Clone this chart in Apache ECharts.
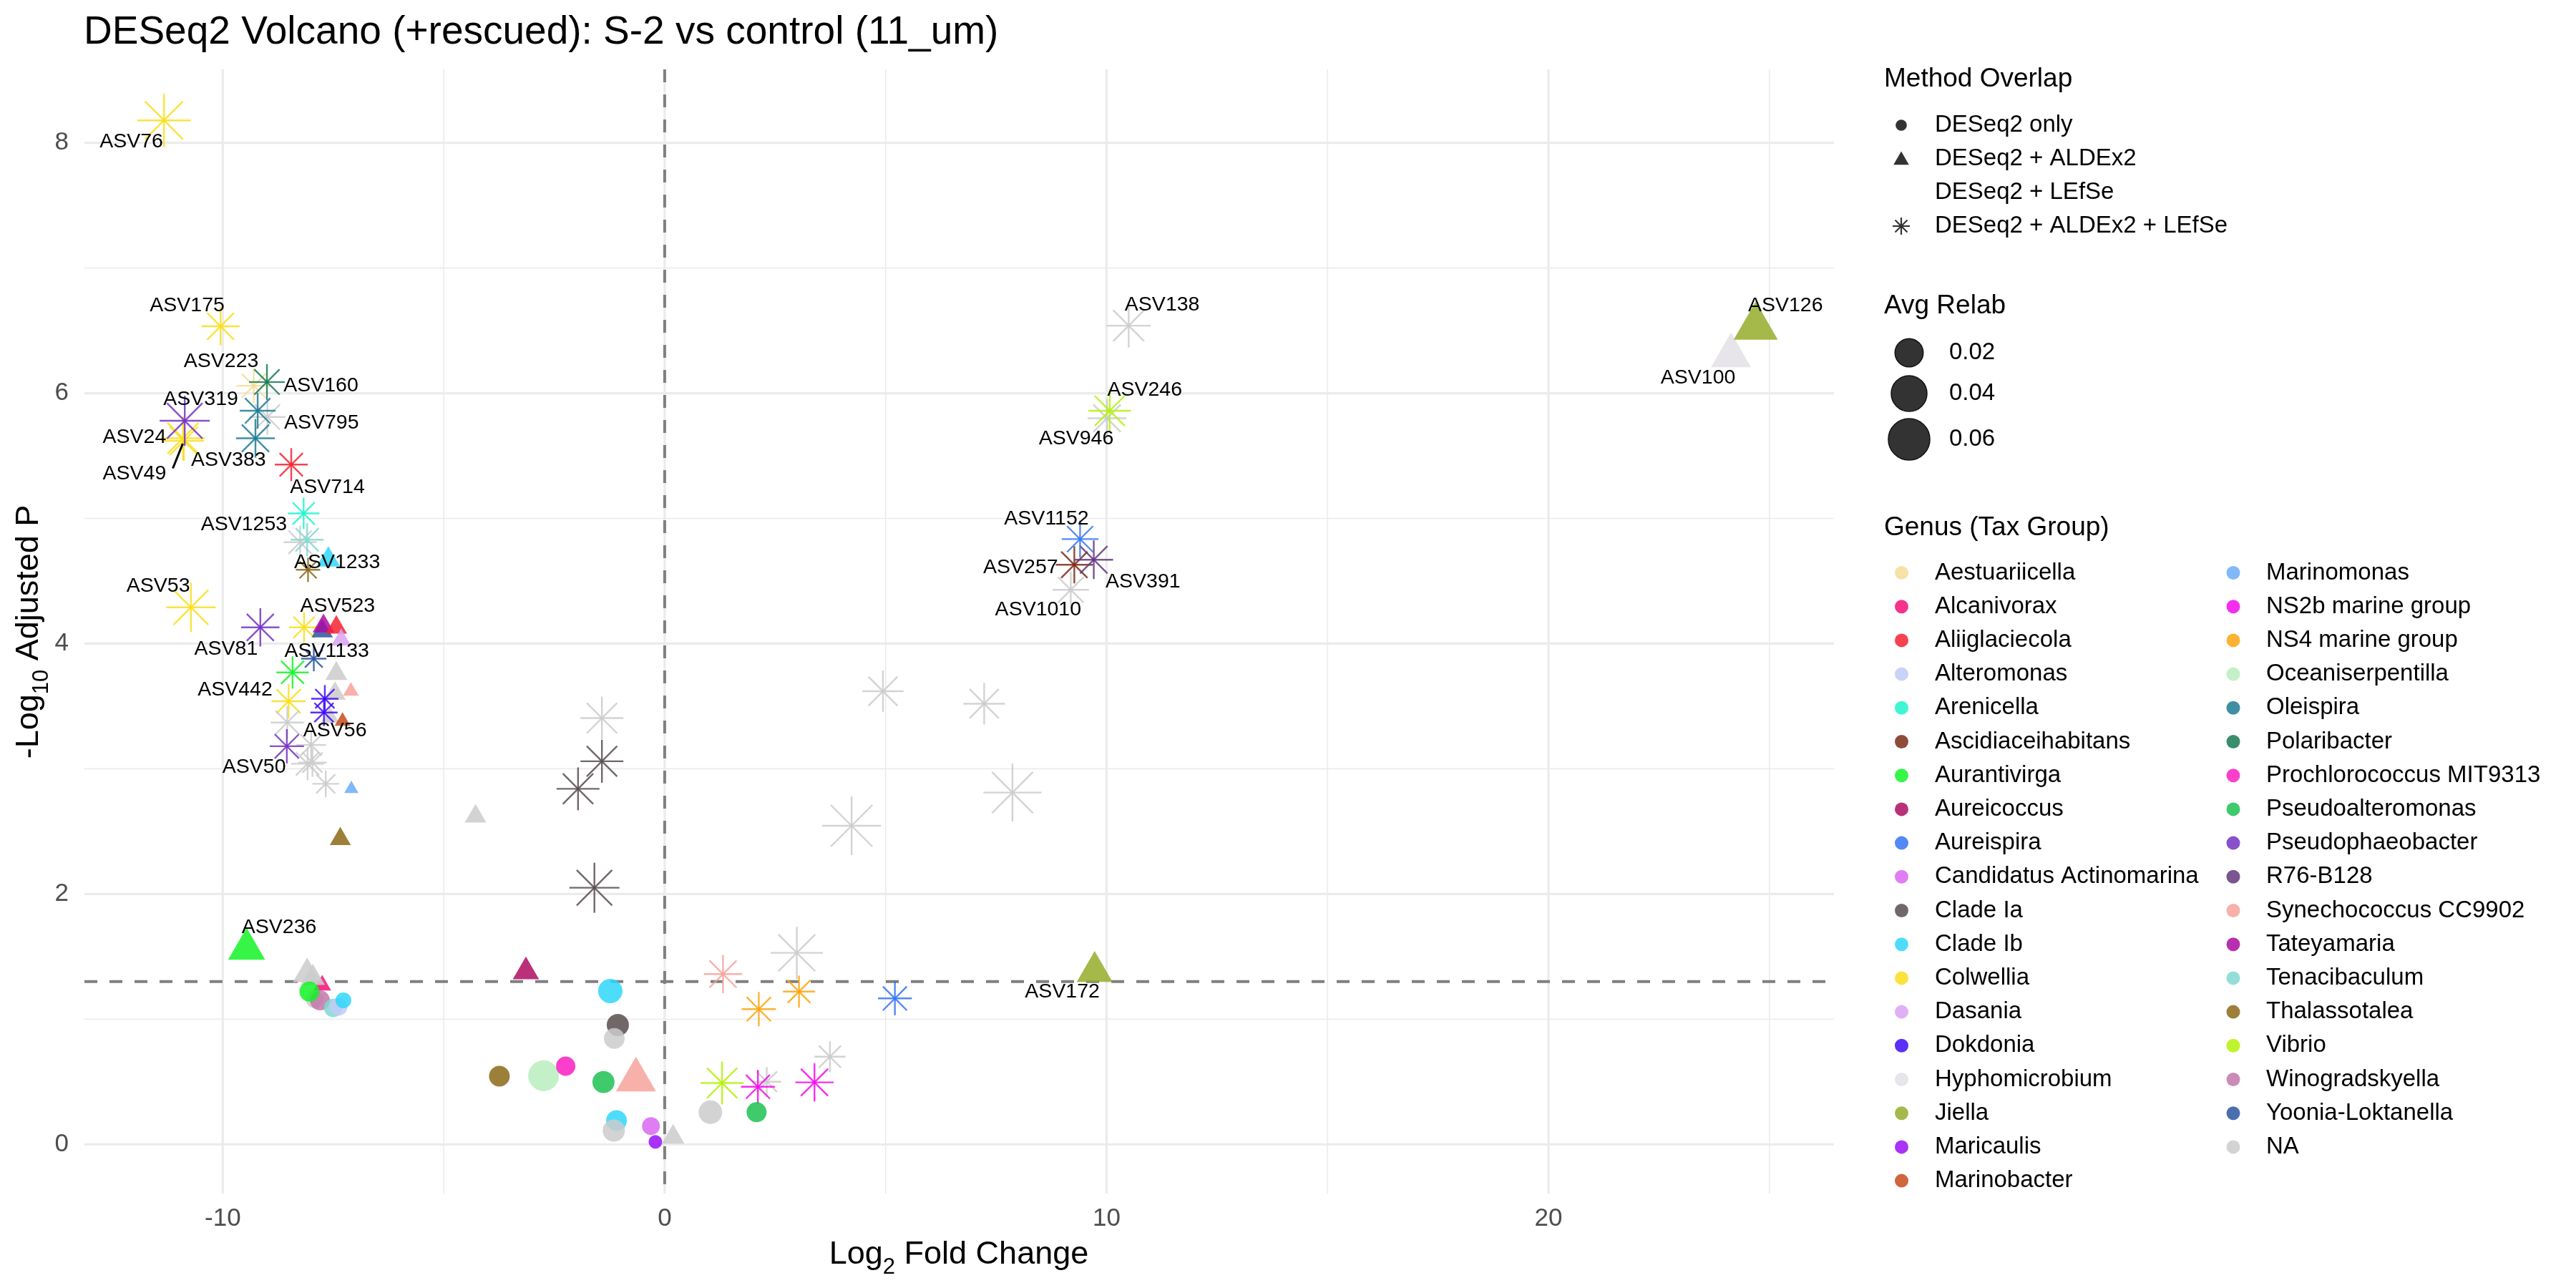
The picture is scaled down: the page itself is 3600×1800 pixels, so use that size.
<!DOCTYPE html>
<html><head><meta charset="utf-8">
<script src="https://cdn.jsdelivr.net/npm/echarts@6/dist/echarts.min.js"></script>
<style>html,body{margin:0;padding:0;background:#fff}#c{width:3600px;height:1800px}</style>
</head><body><div id="c"></div>
<script>
// ---------------- DATA ----------------
const asvNames = ['ASV100','','','','','','','','','ASV138','ASV946','ASV246','ASV1010','ASV257','ASV391','ASV1152','ASV172','ASV126',
 'ASV76','ASV175','ASV795','','ASV223','ASV160','ASV383','ASV49','ASV24','ASV319','ASV714','','','ASV1253','','ASV1233','ASV53','ASV81','','','ASV523','','','ASV1133','','','','','ASV442','','','','ASV56','','','ASV50','','','','','','','ASV236','','','','','','','','','','',
 '','','','','','','','','','','','','','','','','','','','','','','','',''];
const genus = ['Hyphomicrobium','NA','Clade Ia','Clade Ia','Clade Ia','NA','NA','NA','NA','NA','NA','Vibrio','NA','Ascidiaceihabitans','R76-B128','Aureispira','Jiella','Jiella',
 'Colwellia','Colwellia','NA','Oleispira','Aestuariicella','Polaribacter','Oleispira','Colwellia','Colwellia','Pseudophaeobacter','Aliiglaciecola','NA','Tenacibaculum','Arenicella','Thalassotalea','Clade Ib','Colwellia','Pseudophaeobacter','Colwellia','Yoonia-Loktanella','Tateyamaria','Aliiglaciecola','Dasania','Yoonia-Loktanella','Aurantivirga','NA','NA','Synechococcus CC9902','Colwellia','NA','Dokdonia','Dokdonia','Marinobacter','NA','NA','Pseudophaeobacter','NA','NA','NA','Marinomonas','NA','Thalassotalea','Aurantivirga','Alcanivorax','NA','NA','NA','Winogradskyella','Aurantivirga','Tenacibaculum','Alteromonas','Clade Ib',
 'Aureicoccus','Clade Ib','Clade Ia','NA','Thalassotalea','Oceaniserpentilla','Prochlorococcus MIT9313','Pseudoalteromonas','Synechococcus CC9902','Clade Ib','NA','Candidatus Actinomarina','Maricaulis','NA','Synechococcus CC9902','NA','NS4 marine group','NS4 marine group','Aureispira','NA','NA','Vibrio','NS2b marine group','NS2b marine group','NA','Pseudoalteromonas'];
// method: D = DESeq2 only, DA = DESeq2 + ALDEx2, DL = DESeq2 + LEfSe, DAL = all three
const method = ['DA','DAL','DAL','DAL','DAL','DAL','DAL','DAL','DAL','DAL','DAL','DAL','DAL','DAL','DAL','DAL','DA','DA',
 'DAL','DAL','DAL','DAL','DAL','DAL','DAL','DAL','DAL','DAL','DAL','DAL','DAL','DAL','DAL','DA','DAL','DAL','DAL','DA','DA','DA','DA','DAL','DAL','DA','DA','DA','DAL','DA','DAL','DAL','DA','DAL','DAL','DAL','DAL','DAL','DAL','DA','DA','DA','DA','DA','DA','DA','D','D','D','D','D','D',
 'DA','D','D','D','D','D','D','D','DA','D','D','D','D','DA','DAL','DAL','DAL','DAL','DAL','DAL','DAL','DAL','DAL','DAL','D','D'];
const log2FC = [24.13,-1.42,-1.42,-1.96,-1.59,4.94,7.23,4.23,7.87,10.50,10.01,10.07,9.19,9.27,9.71,9.40,9.73,24.69,
 -11.33,-10.05,-8.99,-9.21,-9.30,-9.00,-9.26,-10.88,-10.90,-10.86,-8.45,-8.25,-8.09,-8.17,-8.07,-7.61,-10.72,-9.15,-8.16,-7.75,-7.72,-7.43,-7.32,-7.94,-8.42,-7.43,-7.46,-7.10,-8.51,-7.57,-7.69,-7.71,-7.29,-8.54,-8.00,-8.55,-8.08,-7.97,-7.67,-7.09,-4.28,-7.34,-9.46,-7.75,-8.09,-7.96,-7.92,-7.80,-8.04,-7.50,-7.38,-7.27,
 -3.14,-1.23,-1.06,-1.14,-3.74,-2.74,-2.24,-1.385,-0.65,-1.09,-1.15,-0.31,-0.21,0.19,1.32,2.99,3.04,2.13,5.21,3.74,2.31,1.30,2.11,3.39,1.035,2.08];
const negLog10Padj = [6.30,3.405,3.06,2.84,2.05,3.62,3.52,2.545,2.81,6.54,5.80,5.86,4.43,4.63,4.67,4.835,1.38,6.53,
 8.18,6.535,5.81,5.86,6.06,6.09,5.64,5.62,5.64,5.78,5.43,4.81,4.83,5.04,4.59,4.67,4.29,4.13,4.13,4.10,4.14,4.13,4.03,3.88,3.77,3.76,3.60,3.62,3.54,3.41,3.56,3.45,3.38,3.37,3.19,3.18,3.04,3.05,2.88,2.84,2.62,2.44,1.56,1.27,1.36,1.33,1.16,1.15,1.22,1.09,1.10,1.15,
 1.38,1.225,0.953,0.846,0.545,0.548,0.624,0.498,0.516,0.19,0.11,0.146,0.02,0.058,1.36,1.53,1.22,1.08,1.166,0.70,0.50,0.49,0.46,0.495,0.257,0.257];
const avgRelab = [0.0235,0.0249,0.0249,0.0249,0.0389,0.0220,0.0225,0.0598,0.0581,0.0267,0.0181,0.0244,0.0147,0.0160,0.0181,0.0153,0.0165,0.0312,
 0.0469,0.0172,0.0141,0.0141,0.0122,0.0141,0.0181,0.0202,0.0265,0.0389,0.0106,0.0106,0.0106,0.0090,0.0031,0.0034,0.0370,0.0176,0.0076,0.0021,0.0023,0.0021,0.0013,0.0037,0.0100,0.0023,0.0021,0.00016,0.0121,0.00065,0.0051,0.0051,0.00016,0.0106,0.0072,0.0122,0.0106,0.0063,0.0049,0.00002,0.0021,0.0019,0.0184,0.00065,0.0076,0.0039,0.0037,0.0060,0.0060,0.0042,0.0037,0.0020,
 0.0054,0.0123,0.0089,0.0069,0.0069,0.0260,0.0052,0.0089,0.0235,0.0069,0.0089,0.0037,0.00077,0.0028,0.0176,0.0436,0.0097,0.0122,0.0117,0.0086,0.0068,0.0249,0.0117,0.0176,0.0111,0.0060];

const genusLevels = ['Aestuariicella','Alcanivorax','Aliiglaciecola','Alteromonas','Arenicella','Ascidiaceihabitans','Aurantivirga','Aureicoccus','Aureispira','Candidatus Actinomarina','Clade Ia','Clade Ib','Colwellia','Dasania','Dokdonia','Hyphomicrobium','Jiella','Maricaulis','Marinobacter',
 'Marinomonas','NS2b marine group','NS4 marine group','Oceaniserpentilla','Oleispira','Polaribacter','Prochlorococcus MIT9313','Pseudoalteromonas','Pseudophaeobacter','R76-B128','Synechococcus CC9902','Tateyamaria','Tenacibaculum','Thalassotalea','Vibrio','Winogradskyella','Yoonia-Loktanella','NA'];
const genusColors = ['#F6E2A6','#F5338C','#F6434F','#C9D3F7','#3FF6D4','#8F4B3A','#36F547','#BA317A','#5389F5','#DF7EF2','#716769','#4DDDFB','#FAE33E','#E0B0F5','#5A2FF7','#E7E5E9','#A4B94A','#A935F7','#D0653E',
 '#80B8FA','#F52EEE','#FEB233','#C3F0C6','#3F8FA3','#3B8E6E','#FB3FCB','#3FCA6C','#8A50CC','#7A5590','#F8B0AA','#B82FB0','#93DED8','#9C803A','#BFF42C','#CA8CB7','#4A6FAF','#D3D3D3'];
const methodLevels = ['DESeq2 only','DESeq2 + ALDEx2','DESeq2 + LEfSe','DESeq2 + ALDEx2 + LEfSe'];
const methodKeys = ['D','DA','DL','DAL'];
const relabBreaks = [0.02, 0.04, 0.06];
const xMajorTicks = [-10, 0, 10, 20];
const xMinorTicks = [-5, 5, 15, 25];
const yMajorTicks = [0, 2, 4, 6, 8];
const yMinorTicks = [1, 3, 5, 7];
const padjCutoff = 0.05;
const lfcCenter = 0;

// label placement (pixel offsets of label centre from its point, as repelled in the original)
const labelOffsets = {
 ASV76:[-45.6,29.8], ASV175:[-46.6,-29], ASV223:[-45.4,-34.4], ASV160:[75.4,5.7], ASV319:[22.4,-29.8], ASV795:[75.6,8.8],
 ASV24:[-67.8,-1.3], ASV49:[-69,46.1], ASV383:[-37.7,30.6], ASV714:[50.5,31.8], ASV1253:[-83.4,15.7], ASV1233:[12.2,3.4],
 ASV53:[-45.7,-29.3], ASV81:[-47.9,30], ASV523:[19.7,-27.7], ASV1133:[18.2,-10], ASV442:[-74.8,-16], ASV56:[-10.5,13],
 ASV50:[-45.7,29], ASV236:[45.4,-29.9], ASV138:[46.8,-29], ASV246:[49,-29], ASV946:[-43.1,28.2], ASV1152:[-46.9,-28.2],
 ASV257:[-75,4.1], ASV391:[68.8,30.7], ASV1010:[-45.6,27.4], ASV172:[-45.2,28.2], ASV126:[41.5,-29.4], ASV100:[-46,31]
};
const labelSegments = { ASV49: [[-15.4,38.4],[-1.5,4]] };

// ---------------- STYLE HELPERS ----------------
const FONT = '"Liberation Sans", Arial, Helvetica, sans-serif';
const ALPHA = 0.85;
function unblend(hex){
  const n = parseInt(hex.slice(1),16);
  const c = [(n>>16)&255,(n>>8)&255,n&255].map(v=>Math.max(0,Math.min(255,Math.round((v-255*(1-ALPHA))/ALPHA))));
  return 'rgb('+c.join(',')+')';
}
const colorOf = {};
genusLevels.forEach((g,i)=>{ colorOf[g] = unblend(genusColors[i]); });
function diam(r){ return 14 + 180*Math.sqrt(r); }   // circle-equivalent diameter (px) from avg relab
const STAR_LW = 2.4;

function shapeEls(kind, cx, cy, D, col, opacity, lw){
  if (kind === 'D') return [{type:'circle', shape:{cx:cx, cy:cy, r:D/2}, style:{fill:col, opacity:opacity}}];
  if (kind === 'DA'){
    const W = 1.347*D, h = W*0.866;
    return [{type:'polygon', shape:{points:[[cx,cy-2*h/3],[cx+W/2,cy+h/3],[cx-W/2,cy+h/3]]}, style:{fill:col, opacity:opacity}}];
  }
  if (kind === 'DAL'){
    const R = 0.707*D, d = R/Math.SQRT2;
    const segs = [[cx-R,cy,cx+R,cy],[cx,cy-R,cx,cy+R],[cx-d,cy-d,cx+d,cy+d],[cx-d,cy+d,cx+d,cy-d]];
    return segs.map(s=>({type:'line', shape:{x1:s[0],y1:s[1],x2:s[2],y2:s[3]}, style:{stroke:col, lineWidth:lw||STAR_LW, opacity:opacity}}));
  }
  return [];
}

// ---------------- SERIES DATA ----------------
const pointData = log2FC.map((x,i)=>[x, negLog10Padj[i], avgRelab[i], i]);
const labelData = [];
asvNames.forEach((n,i)=>{ if(n) labelData.push([log2FC[i], negLog10Padj[i], i]); });
const gridData = [];
xMinorTicks.forEach(v=>gridData.push([v,0,1]));
yMinorTicks.forEach(v=>gridData.push([0,v,3]));
xMajorTicks.forEach(v=>gridData.push([v,0,0]));
yMajorTicks.forEach(v=>gridData.push([0,v,2]));
const refData = [[lfcCenter,0,0],[0,-Math.log10(padjCutoff),1]];

// ---------------- TEXT MEASURE ----------------
const mctx = document.createElement('canvas').getContext('2d');
function tw(t, size){ mctx.font = size+'px '+FONT; return mctx.measureText(t).width; }

const graphics = [];
function txt(t,x,y,size,opt){
  opt = opt||{};
  return {type:'text', x:x, y:y, silent:true, style:{text:t, fontSize:size, fontFamily:FONT, fill:opt.fill||'#000', align:opt.align||'left', verticalAlign:'middle'}};
}
// title
graphics.push(txt('DESeq2 Volcano (+rescued): S-2 vs control (11_um)', 117, 46, 55));
// x axis title with subscript
(function(){
  const a='Log', s='2', b=' Fold Change', fs=45, ss=31;
  const w = tw(a,fs)+tw(s,ss)+tw(b,fs);
  let x0 = 1340 - w/2, y = 1754;
  graphics.push(txt(a,x0,y,fs)); x0 += tw(a,fs);
  graphics.push(txt(s,x0,y+17,ss)); x0 += tw(s,ss);
  graphics.push(txt(b,x0,y,fs));
})();
// y axis title (rotated)
(function(){
  const a='-Log', s='10', b=' Adjusted P', fs=45, ss=31;
  const w = tw(a,fs)+tw(s,ss)+tw(b,fs);
  let x0 = -w/2;
  const ch = [];
  ch.push(txt(a,x0,0,fs)); x0 += tw(a,fs);
  ch.push(txt(s,x0,17,ss)); x0 += tw(s,ss);
  ch.push(txt(b,x0,0,fs));
  graphics.push({type:'group', x:41, y:883, rotation:Math.PI/2, children:ch});
})();
// legend: Method Overlap
graphics.push(txt('Method Overlap', 2633, 111, 37));
const mY = [175, 222, 269, 316];
const mSymD = {D:15.7, DA:16.1, DAL:17};
methodLevels.forEach((lab,i)=>{
  const k = methodKeys[i];
  if (mSymD[k]) shapeEls(k, 2657, mY[i] + (k==='DA'?2:0), mSymD[k], '#333333', 1, 2.2).forEach(e=>{e.silent=true; graphics.push(e);});
  graphics.push(txt(lab, 2704, mY[i], 33));
});
// legend: Avg Relab
graphics.push(txt('Avg Relab', 2633, 428, 37));
const rY = [493, 550, 614];
relabBreaks.forEach((r,i)=>{
  graphics.push({type:'circle', silent:true, shape:{cx:2668, cy:rY[i], r:diam(r)/2}, style:{fill:'#333333', stroke:'#111', lineWidth:1.5}});
  graphics.push(txt(r.toFixed(2), 2724, rY[i], 33));
});
// legend: Genus
graphics.push(txt('Genus (Tax Group)', 2633, 738, 37));
const perCol = 19, rowStep = 47.2, row0 = 800.5;
genusLevels.forEach((g,i)=>{
  const col = Math.floor(i/perCol), row = i%perCol;
  const sx = col ? 3121 : 2657.5, tx = col ? 3167 : 2704;
  const y = row0 + row*rowStep;
  graphics.push({type:'circle', silent:true, shape:{cx:sx, cy:y, r:9.5}, style:{fill:colorOf[g], opacity:ALPHA}});
  graphics.push(txt(g, tx, y, 33));
});

// ---------------- CHART ----------------
const chart = echarts.init(document.getElementById('c'), null, {renderer:'canvas'});
chart.setOption({
  animation:false,
  backgroundColor:'#ffffff',
  grid:{left:118, right:1037, top:97, bottom:132, containLabel:false},
  xAxis:{type:'value', min:-13.13, max:26.46,
    axisLine:{show:false}, axisTick:{show:false}, splitLine:{show:false},
    axisLabel:{customValues:xMajorTicks, color:'#4D4D4D', fontSize:35, fontFamily:FONT, margin:18}},
  yAxis:{type:'value', min:-0.393, max:8.587,
    axisLine:{show:false}, axisTick:{show:false}, splitLine:{show:false},
    axisLabel:{customValues:yMajorTicks, color:'#4D4D4D', fontSize:35, fontFamily:FONT, margin:22}},
  graphic:{elements:graphics},
  series:[
    { type:'custom', name:'grid', silent:true, z:1, encode:{x:0,y:1}, data:gridData,
      renderItem:function(params, api){
        const cs = params.coordSys, k = api.value(2);
        const major = (k===0||k===2), lw = major?3.2:1.6;
        if (k<2){ const px = api.coord([api.value(0),0])[0];
          return {type:'line', shape:{x1:px,y1:cs.y,x2:px,y2:cs.y+cs.height}, style:{stroke:'#EBEBEB', lineWidth:lw}}; }
        const py = api.coord([0,api.value(1)])[1];
        return {type:'line', shape:{x1:cs.x,y1:py,x2:cs.x+cs.width,y2:py}, style:{stroke:'#EBEBEB', lineWidth:lw}};
      }},
    { type:'custom', name:'ref', silent:true, z:2, encode:{x:0,y:1}, data:refData,
      renderItem:function(params, api){
        const cs = params.coordSys, k = api.value(2);
        const st = {stroke:'#7F7F7F', lineWidth:4, lineDash:[18,17]};
        if (k===0){ const px = api.coord([api.value(0),0])[0];
          return {type:'line', shape:{x1:px,y1:cs.y,x2:px,y2:cs.y+cs.height}, style:st}; }
        const py = api.coord([0,api.value(1)])[1];
        return {type:'line', shape:{x1:cs.x,y1:py,x2:cs.x+cs.width,y2:py}, style:st};
      }},
    { type:'custom', name:'points', silent:true, z:3, encode:{x:0,y:1}, data:pointData,
      renderItem:function(params, api){
        const i = api.value(3);
        const p = api.coord([api.value(0), api.value(1)]);
        const D = diam(api.value(2));
        return {type:'group', children:shapeEls(method[i], p[0], p[1], D, colorOf[genus[i]], ALPHA)};
      }},
    { type:'custom', name:'labels', silent:true, z:4, encode:{x:0,y:1}, data:labelData,
      renderItem:function(params, api){
        const i = api.value(2), name = asvNames[i];
        const p = api.coord([api.value(0), api.value(1)]);
        const off = labelOffsets[name] || [0,-28];
        const ch = [];
        const seg = labelSegments[name];
        if (seg) ch.push({type:'line', shape:{x1:p[0]+seg[0][0], y1:p[1]+seg[0][1], x2:p[0]+seg[1][0], y2:p[1]+seg[1][1]}, style:{stroke:'#000', lineWidth:3}});
        ch.push({type:'text', x:p[0]+off[0], y:p[1]+off[1], style:{text:name, fontSize:28.5, fontFamily:FONT, fill:'#000', align:'center', verticalAlign:'middle'}});
        return {type:'group', children:ch};
      }}
  ]
});
</script></body></html>
